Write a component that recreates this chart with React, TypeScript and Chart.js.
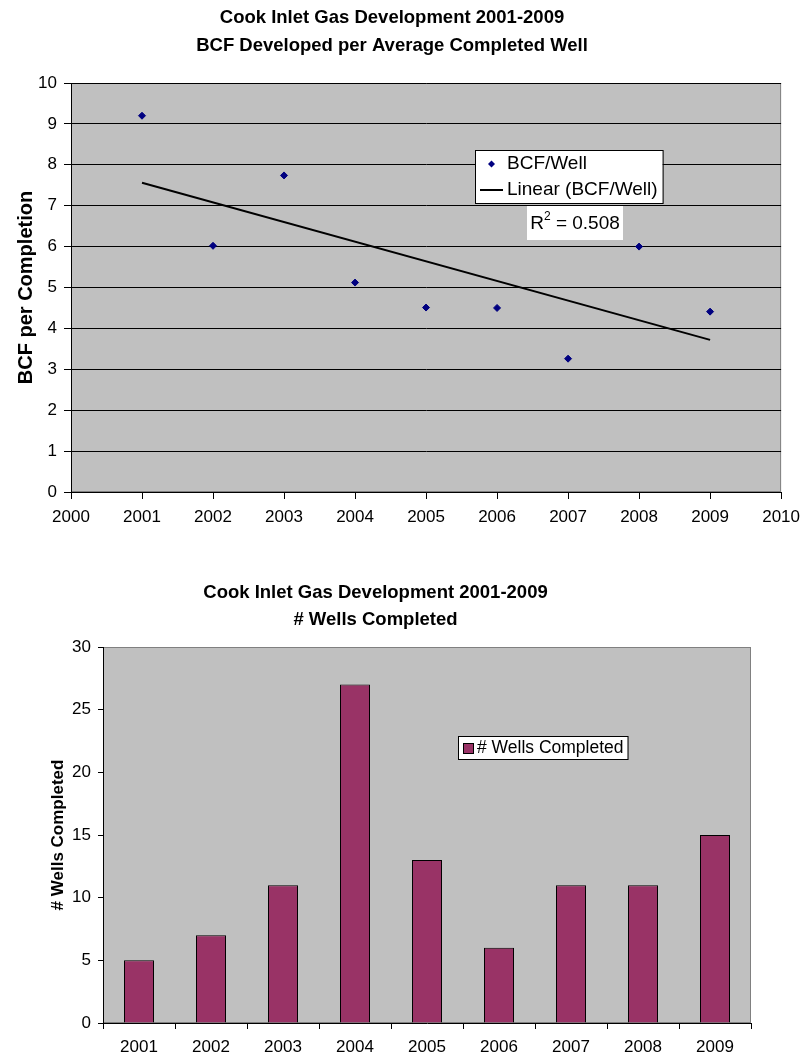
import React, { useEffect, useRef } from 'react';
import { Chart, registerables } from 'chart.js';

Chart.register(...registerables);

const FONT = "'Liberation Sans', Arial, Helvetica, sans-serif";

// ---- data ----
const CHART_TITLE = 'Cook Inlet Gas Development 2001-2009';
const BCF_SUBTITLE = 'BCF Developed per Average Completed Well';
const WELLS_SUBTITLE = '# Wells Completed';

const years = [2001, 2002, 2003, 2004, 2005, 2006, 2007, 2008, 2009];
const bcfPerWell = [9.2, 6.02, 7.74, 5.12, 4.51, 4.5, 3.26, 6.0, 4.41];
const wellsCompleted = [5, 7, 11, 27, 13, 6, 11, 11, 15];

const yearAxisBounds = [2000, 2010];
const bcfAxisBounds = [0, 10];
const wellsAxisBounds = [0, 30];

const bcfSeriesLabel = 'BCF/Well';
const trendSeriesLabel = 'Linear (BCF/Well)';
const wellsSeriesLabel = '# Wells Completed';
const rSquaredText = '0.508';

// least-squares line through the BCF/Well points
function linearFit(xs: number[], ys: number[]) {
  const n = xs.length;
  const mx = xs.reduce((a, b) => a + b, 0) / n;
  const my = ys.reduce((a, b) => a + b, 0) / n;
  let sxy = 0;
  let sxx = 0;
  for (let i = 0; i < n; i++) {
    sxy += (xs[i] - mx) * (ys[i] - my);
    sxx += (xs[i] - mx) * (xs[i] - mx);
  }
  const slope = sxy / sxx;
  return (x: number) => my + slope * (x - mx);
}

const PLOT_FILL = '#c0c0c0';
const PLOT_EDGE = '#808080';
const MARKER = '#000080';
const BAR_FILL = '#993366';

const plotBackground = {
  id: 'plotBackground',
  beforeDraw(chart: any) {
    const { ctx, chartArea: a } = chart;
    ctx.save();
    ctx.fillStyle = PLOT_FILL;
    ctx.fillRect(a.left, a.top, a.right - a.left, a.bottom - a.top);
    ctx.strokeStyle = PLOT_EDGE;
    ctx.lineWidth = 1;
    ctx.strokeRect(a.left + 0.5, a.top + 0.5, a.right - a.left - 1, a.bottom - a.top - 1);
    ctx.restore();
  },
};

// legend box + R² label for the scatter chart
const scatterLegend = {
  id: 'scatterLegend',
  afterDraw(chart: any) {
    const { ctx } = chart;
    const ds = chart.data.datasets;
    ctx.save();
    ctx.font = `19px ${FONT}`;
    const textX = 507;
    const w = Math.max(ctx.measureText(ds[0].label).width, ctx.measureText(ds[1].label).width);
    const left = 475;
    const top = 150;
    const right = textX + w + 5;
    const bottom = 203;
    ctx.fillStyle = '#fff';
    ctx.fillRect(left, top, right - left, bottom - top);
    ctx.strokeStyle = '#000';
    ctx.lineWidth = 1;
    ctx.strokeRect(left + 0.5, top + 0.5, right - left, bottom - top);

    // row 1: marker
    const r1 = 164;
    ctx.fillStyle = ds[0].backgroundColor;
    ctx.beginPath();
    ctx.moveTo(491.5 - 3.5, r1);
    ctx.lineTo(491.5, r1 - 3.5);
    ctx.lineTo(491.5 + 3.5, r1);
    ctx.lineTo(491.5, r1 + 3.5);
    ctx.closePath();
    ctx.fill();
    // row 2: line
    const r2 = 190;
    ctx.strokeStyle = ds[1].borderColor;
    ctx.lineWidth = 2;
    ctx.beginPath();
    ctx.moveTo(480, r2);
    ctx.lineTo(503, r2);
    ctx.stroke();

    ctx.fillStyle = '#000';
    ctx.textBaseline = 'middle';
    ctx.textAlign = 'left';
    ctx.fillText(ds[0].label, textX, r1);
    ctx.fillText(ds[1].label, textX, r2);

    // R² label
    const rest = ` = ${rSquaredText}`;
    ctx.font = `19px ${FONT}`;
    const wR = ctx.measureText('R').width;
    const wRest = ctx.measureText(rest).width;
    ctx.font = `12px ${FONT}`;
    const wSup = ctx.measureText('2').width;
    const total = wR + wSup + wRest;
    const bl = 527;
    const bt = 206;
    const bw = 96;
    const bh = 34;
    ctx.fillStyle = '#fff';
    ctx.fillRect(bl, bt, bw, bh);
    let x = bl + (bw - total) / 2;
    const cy = bt + bh / 2 + 1;
    ctx.fillStyle = '#000';
    ctx.font = `19px ${FONT}`;
    ctx.fillText('R', x, cy);
    x += wR;
    ctx.font = `12px ${FONT}`;
    ctx.fillText('2', x, cy - 7);
    x += wSup;
    ctx.font = `19px ${FONT}`;
    ctx.fillText(rest, x, cy);
    ctx.restore();
  },
};

// legend box for the bar chart
const barLegend = {
  id: 'barLegend',
  afterDraw(chart: any) {
    const { ctx } = chart;
    const ds = chart.data.datasets[0];
    ctx.save();
    ctx.font = `17.5px ${FONT}`;
    const textX = 477;
    const w = ctx.measureText(ds.label).width;
    const left = 458;
    const top = 196;
    const right = textX + w + 4;
    const bottom = 219;
    ctx.fillStyle = '#fff';
    ctx.fillRect(left, top, right - left, bottom - top);
    ctx.strokeStyle = '#000';
    ctx.lineWidth = 1;
    ctx.strokeRect(left + 0.5, top + 0.5, right - left, bottom - top);
    ctx.fillStyle = ds.backgroundColor;
    ctx.fillRect(463, 203, 11, 10);
    ctx.strokeRect(463.5, 203.5, 10, 10);
    ctx.fillStyle = '#000';
    ctx.textBaseline = 'middle';
    ctx.fillText(ds.label, textX, 208);
    ctx.restore();
  },
};

function ScatterChart() {
  const ref = useRef<HTMLCanvasElement | null>(null);
  useEffect(() => {
    if (!ref.current) return;
    const fit = linearFit(years, bcfPerWell);
    const x0 = years[0];
    const x1 = years[years.length - 1];
    const chart = new Chart(ref.current, {
      type: 'scatter',
      data: {
        datasets: [
          {
            label: bcfSeriesLabel,
            data: years.map((yr, i) => ({ x: yr, y: bcfPerWell[i] })),
            pointStyle: 'rectRot',
            pointRadius: 3.5,
            backgroundColor: MARKER,
            borderColor: MARKER,
            borderWidth: 1,
            order: 1,
          },
          {
            type: 'line',
            label: trendSeriesLabel,
            data: [
              { x: x0, y: fit(x0) },
              { x: x1, y: fit(x1) },
            ],
            borderColor: '#000',
            backgroundColor: '#000',
            borderWidth: 2,
            pointRadius: 0,
            fill: false,
            order: 2,
          } as any,
        ],
      },
      options: {
        responsive: false,
        animation: false,
        devicePixelRatio: 1,
        layout: { padding: { left: 0, right: 24, top: 0, bottom: 0 } },
        plugins: {
          legend: { display: false },
          tooltip: { enabled: false },
          title: {
            display: true,
            text: [CHART_TITLE, BCF_SUBTITLE],
            color: '#000',
            font: { family: FONT, size: 18.5, weight: 'bold', lineHeight: 28 / 18.5 },
            padding: { top: 4, bottom: 23 },
          },
        },
        scales: {
          x: {
            type: 'linear',
            min: yearAxisBounds[0],
            max: yearAxisBounds[1],
            afterFit: (s: any) => {
              s.height = 48;
            },
            ticks: {
              stepSize: 1,
              autoSkip: false,
              maxRotation: 0,
              callback: (v: any) => String(v),
              color: '#000',
              font: { family: FONT, size: 17 },
              padding: 8,
            },
            grid: { drawOnChartArea: false, drawTicks: true, tickLength: 7, color: '#000', tickColor: '#000' },
            border: { color: '#000', width: 1 },
          },
          y: {
            min: bcfAxisBounds[0],
            max: bcfAxisBounds[1],
            afterFit: (s: any) => {
              s.width = 71;
            },
            ticks: { stepSize: 1, color: '#000', font: { family: FONT, size: 17 }, padding: 7 },
            grid: { color: '#000', tickColor: '#000', tickLength: 7, lineWidth: 1 },
            border: { color: '#000', width: 1 },
            title: {
              display: true,
              text: 'BCF per Completion',
              color: '#000',
              font: { family: FONT, size: 20, weight: 'bold', lineHeight: 1.2 },
              padding: { top: 14.5, bottom: 0 },
            },
          },
        },
      } as any,
      plugins: [plotBackground, scatterLegend],
    });
    return () => chart.destroy();
  }, []);
  return <canvas ref={ref} width={808} height={540} style={{ position: 'absolute', left: 0, top: 0 }} />;
}

function BarChart() {
  const ref = useRef<HTMLCanvasElement | null>(null);
  useEffect(() => {
    if (!ref.current) return;
    const chart = new Chart(ref.current, {
      type: 'bar',
      data: {
        labels: years.map(String),
        datasets: [
          {
            label: wellsSeriesLabel,
            data: wellsCompleted,
            backgroundColor: BAR_FILL,
            borderColor: '#000',
            borderWidth: 1,
            barPercentage: 0.417,
            categoryPercentage: 1,
          },
        ],
      },
      options: {
        responsive: false,
        animation: false,
        devicePixelRatio: 1,
        layout: { padding: { left: 0, right: 57, top: 0, bottom: 0 } },
        plugins: {
          legend: { display: false },
          tooltip: { enabled: false },
          title: {
            display: true,
            text: [CHART_TITLE, WELLS_SUBTITLE],
            color: '#000',
            font: { family: FONT, size: 18.5, weight: 'bold', lineHeight: 27 / 18.5 },
            padding: { top: 39.5, bottom: 13.5 },
          },
        },
        scales: {
          x: {
            afterFit: (s: any) => {
              s.height = 34;
            },
            ticks: { color: '#000', font: { family: FONT, size: 17 }, padding: 8, maxRotation: 0, autoSkip: false },
            grid: { drawOnChartArea: false, drawTicks: true, tickLength: 6, color: '#000', tickColor: '#000', offset: true },
            border: { color: '#000', width: 1 },
          },
          y: {
            min: wellsAxisBounds[0],
            max: wellsAxisBounds[1],
            afterFit: (s: any) => {
              s.width = 103;
            },
            ticks: { stepSize: 5, color: '#000', font: { family: FONT, size: 17 }, padding: 7 },
            grid: { drawOnChartArea: false, drawTicks: true, tickLength: 5, color: '#000', tickColor: '#000' },
            border: { color: '#000', width: 1 },
            title: {
              display: true,
              text: '# Wells Completed',
              color: '#000',
              font: { family: FONT, size: 17, weight: 'bold', lineHeight: 1.2 },
              padding: { top: 48.3, bottom: 0 },
            },
          },
        },
      } as any,
      plugins: [plotBackground, barLegend],
    });
    return () => chart.destroy();
  }, []);
  return <canvas ref={ref} width={808} height={517} style={{ position: 'absolute', left: 0, top: 540 }} />;
}

export default function App() {
  return (
    <div style={{ position: 'absolute', left: 0, top: 0, width: 808, height: 1057, background: '#fff', overflow: 'hidden' }}>
      <ScatterChart />
      <BarChart />
    </div>
  );
}
